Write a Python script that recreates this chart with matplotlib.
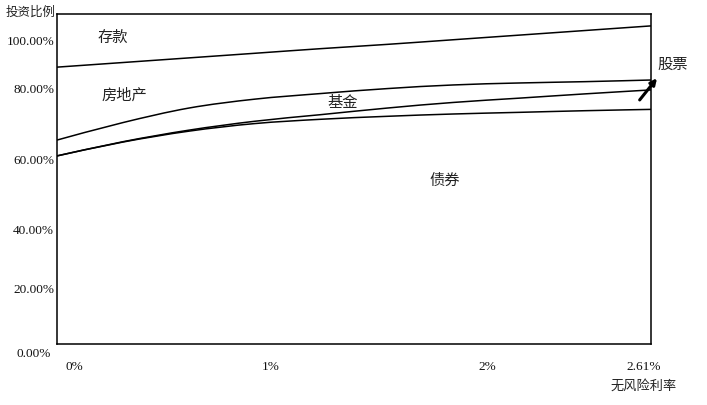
import matplotlib
matplotlib.use("Agg")
import matplotlib.pyplot as plt
from matplotlib.path import Path
from matplotlib.patches import PathPatch
from matplotlib.transforms import ScaledTranslation

plt.rcParams['font.family'] = ['Liberation Serif', 'Noto Sans CJK SC', 'DejaVu Sans']

# ---- data (schematic, positions as fraction of the plot area) ----
x_pts = [0.0, 0.111, 0.222, 0.333, 0.444, 0.556, 0.667, 0.778, 0.889, 1.0]
deposit_line = [0.839, 0.853, 0.867, 0.881, 0.895, 0.908, 0.922, 0.936, 0.950, 0.964]
realestate_line = [0.618, 0.671, 0.715, 0.742, 0.759, 0.774, 0.785, 0.791, 0.795, 0.800]
fund_line = [0.570, 0.613, 0.648, 0.675, 0.695, 0.715, 0.732, 0.745, 0.758, 0.770]
stock_line = [0.570, 0.612, 0.645, 0.668, 0.681, 0.690, 0.697, 0.702, 0.707, 0.711]

y_tick_pos = [0.0, 0.167, 0.348, 0.558, 0.773, 0.921]
y_tick_labels = ["0.00%", "20.00%", "40.00%", "60.00%", "80.00%", "100.00%"]
x_tick_pos = [0.030, 0.359, 0.724, 0.987]
x_tick_labels = ["0%", "1%", "2%", "2.61%"]

region_labels = ["存款", "房地产", "基金", "债券"]
region_x = [0.094, 0.113, 0.481, 0.652]
region_y = [0.927, 0.752, 0.730, 0.494]


def smooth_path(xs, ys):
    """Catmull-Rom style cubic Bezier path through the given points."""
    pts = list(zip(xs, ys))
    n = len(pts)
    verts = [pts[0]]
    codes = [Path.MOVETO]
    for i in range(n - 1):
        p0 = pts[i - 1] if i > 0 else pts[i]
        p1 = pts[i]
        p2 = pts[i + 1]
        p3 = pts[i + 2] if i + 2 < n else pts[i + 1]
        c1 = (p1[0] + (p2[0] - p0[0]) / 6.0, p1[1] + (p2[1] - p0[1]) / 6.0)
        c2 = (p2[0] - (p3[0] - p1[0]) / 6.0, p2[1] - (p3[1] - p1[1]) / 6.0)
        verts += [c1, c2, p2]
        codes += [Path.CURVE4] * 3
    return Path(verts, codes)


fig = plt.figure(figsize=(7.07, 4.05), dpi=100)
ax = fig.add_axes([0.0806, 0.1506, 0.8402, 0.8148])
ax.set_xlim(0, 1)
ax.set_ylim(0, 1)

for ys in (deposit_line, realestate_line, fund_line, stock_line):
    ax.add_patch(PathPatch(smooth_path(x_pts, ys), facecolor='none',
                           edgecolor='black', lw=1.1))

for s in ax.spines.values():
    s.set_linewidth(1.1)
    s.set_color('black')

ax.set_yticks(y_tick_pos)
ax.set_yticklabels(y_tick_labels, fontsize=9.5, color='#111111')
ax.set_xticks(x_tick_pos)
ax.set_xticklabels(x_tick_labels, fontsize=9.5, color='#111111')
ax.tick_params(axis='y', length=0, pad=2)
ax.tick_params(axis='x', length=0, pad=12)

# shift the 0.00% label slightly below the baseline, like the reference
lbl0 = ax.get_yticklabels()[0]
lbl0.set_transform(lbl0.get_transform() + ScaledTranslation(-0.03, -0.08, fig.dpi_scale_trans))

for t, xx, yy in zip(region_labels, region_x, region_y):
    ax.text(xx, yy, t, fontsize=11, ha='center', va='center', color='#222222')

ax.text(1.037, 0.845, "股票", fontsize=11, ha='center', va='center', color='#222222', clip_on=False)
ax.annotate("", xy=(1.013, 0.812), xytext=(0.978, 0.733),
            arrowprops=dict(arrowstyle='-|>', color='black', lw=2.2, mutation_scale=9),
            annotation_clip=False)

ax.text(-0.044, 1.003, "投资比例", fontsize=9, ha='center', va='center',
        transform=ax.transAxes, color='#222222')
ax.text(0.987, -0.127, "无风险利率", fontsize=9.5, ha='center', va='center',
        transform=ax.transAxes, color='#222222')

fig.savefig("out.png", dpi=100)
